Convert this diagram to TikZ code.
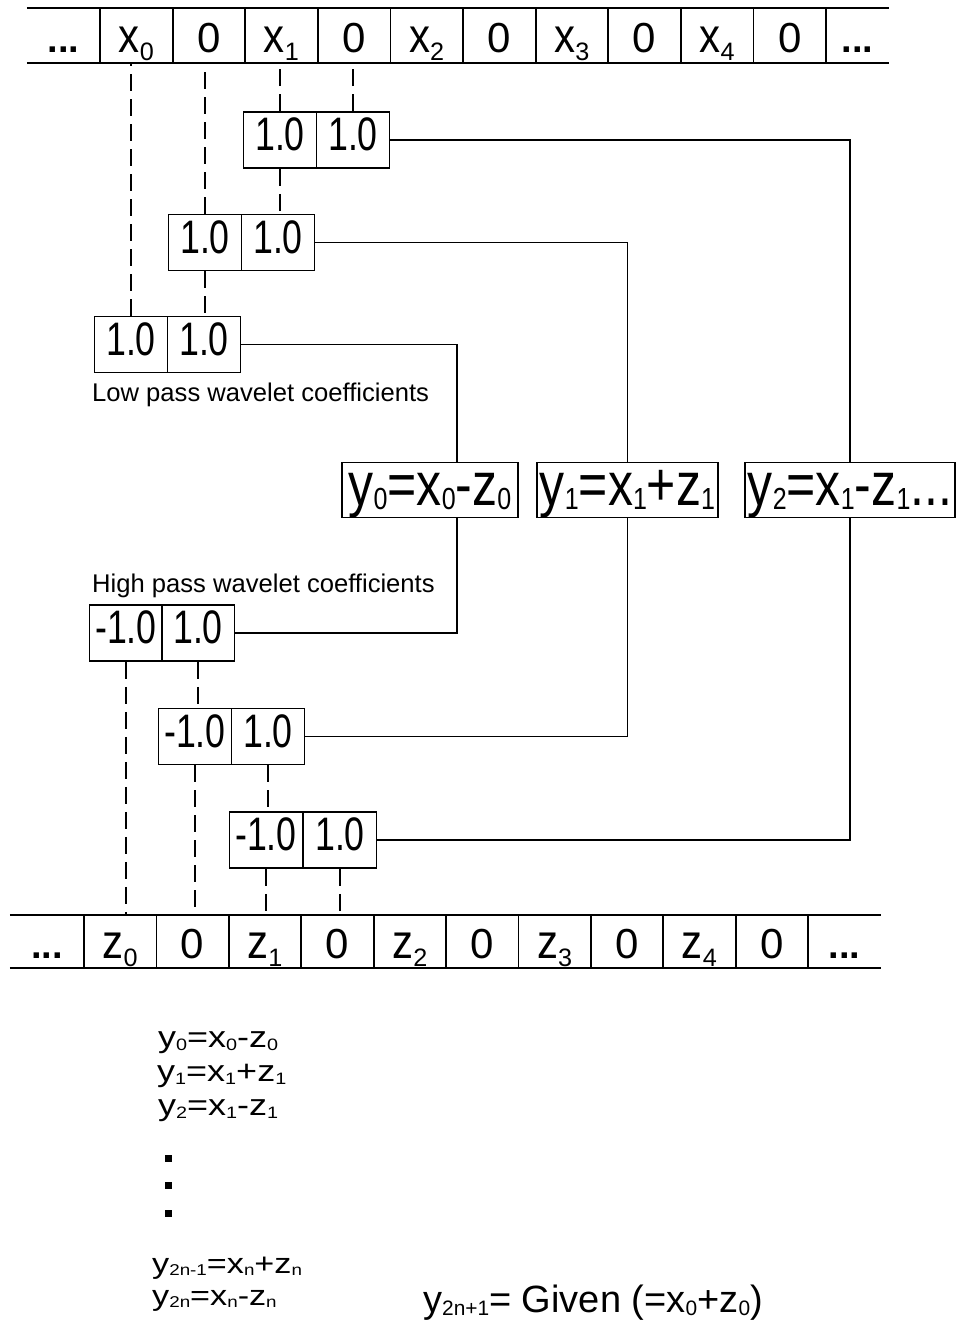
\documentclass[tikz,border=0pt]{standalone}
\usepackage{fontspec}
\usepackage{graphicx}
\setmainfont{Liberation Sans}
\newfontfamily\condf[FakeStretch=0.82]{Liberation Sans}
\newfontfamily\condg[FakeStretch=0.76]{Liberation Sans}
\newfontfamily\widef[FakeStretch=1.2]{Liberation Sans}
\newcommand\sbx[1]{\raisebox{-0.2em}{\scalebox{0.6}{#1}}}
\newcommand\sby[1]{\raisebox{-0.08em}{\scalebox{0.5}{#1}}}
\newcommand\sbe[1]{\raisebox{-0.1em}{\scalebox{0.55}{#1}}}
\newcommand\tx[1]{\scalebox{1}[1.15]{#1}}
\begin{document}
\begin{tikzpicture}[x=1pt,y=-1pt,
  every node/.style={inner sep=0pt},
  tcell/.style={draw, line width=1.8pt, minimum width=72.6pt, minimum height=55pt,
    text height=34pt, text depth=0pt, font=\fontsize{42}{42}\selectfont},
  bcell/.style={tcell, minimum width=72.4pt, minimum height=53pt},
  ecell/.style={minimum height=55pt, text height=34pt, text depth=0pt, font=\bfseries\fontsize{38}{38}\selectfont},
  coef/.style={draw, line width=1.8pt, minimum width=73pt, minimum height=56pt,
    text height=21pt, text depth=0pt, font=\condg\fontsize{47}{47}\selectfont},
  ybox/.style={draw, line width=1.8pt, minimum height=55pt,
    text height=30pt, text depth=0pt, font=\condf\fontsize{61}{61}\selectfont},
  lbl/.style={anchor=base west, font=\fontsize{25.6}{25.6}\selectfont},
  eq/.style={anchor=base west, font=\widef\fontsize{30}{30}\selectfont},
  sq/.style={fill=black, minimum size=7pt},
  dl/.style={line width=1.8pt, dash pattern=on 17pt off 8pt},
  conn/.style={line width=1.8pt}]
\useasboundingbox (0,0) rectangle (958,1326);
% top array
\node[ecell, minimum width=73pt] (tl) at (63.5,35.5) {...};
\node[ecell, minimum width=63pt] (tr) at (857.5,35.5) {...};
\node[tcell] (t1) at (136.3,35.5) {\tx{x}\sbx{0}};
\node[tcell] (t2) at (208.9,35.5) {0};
\node[tcell] (t3) at (281.5,35.5) {\tx{x}\sbx{1}};
\node[tcell] (t4) at (354.1,35.5) {0};
\node[tcell] (t5) at (426.7,35.5) {\tx{x}\sbx{2}};
\node[tcell] (t6) at (499.3,35.5) {0};
\node[tcell] (t7) at (571.9,35.5) {\tx{x}\sbx{3}};
\node[tcell] (t8) at (644.5,35.5) {0};
\node[tcell] (t9) at (717.1,35.5) {\tx{x}\sbx{4}};
\node[tcell] (t10) at (789.7,35.5) {0};
\draw[conn] (tl.north west) -- (tr.north east);
\draw[conn] (tl.south west) -- (tr.south east);
% bottom array
\node[ecell, minimum width=74pt, minimum height=53pt] (bl) at (47,941.5) {...};
\node[ecell, minimum width=73pt, minimum height=53pt] (br) at (844.5,941.5) {...};
\node[bcell] (z1) at (120.2,941.5) {\tx{z}\sbx{0}};
\node[bcell] (z2) at (192.6,941.5) {0};
\node[bcell] (z3) at (265,941.5) {\tx{z}\sbx{1}};
\node[bcell] (z4) at (337.4,941.5) {0};
\node[bcell] (z5) at (409.8,941.5) {\tx{z}\sbx{2}};
\node[bcell] (z6) at (482.2,941.5) {0};
\node[bcell] (z7) at (554.6,941.5) {\tx{z}\sbx{3}};
\node[bcell] (z8) at (627,941.5) {0};
\node[bcell] (z9) at (699.4,941.5) {\tx{z}\sbx{4}};
\node[bcell] (z10) at (771.8,941.5) {0};
\draw[conn] (bl.north west) -- (br.north east);
\draw[conn] (bl.south west) -- (br.south east);
% low pass coefficient boxes
\node[coef] (b1a) at (280,140) {1.0};
\node[coef] (b1b) at (353,140) {1.0};
\node[coef] (b2a) at (205,242.5) {1.0};
\node[coef] (b2b) at (278,242.5) {1.0};
\node[coef] (b3a) at (131,344.5) {1.0};
\node[coef] (b3b) at (204,344.5) {1.0};
\node[lbl] (lp) at (92,401) {Low pass wavelet coefficients};
% y boxes
\node[ybox, minimum width=176pt] (y0) at (430,490) {y\sby{0}=x\sby{0}-z\sby{0}};
\node[ybox, minimum width=181pt] (y1) at (627.5,490) {y\sby{1}=x\sby{1}+z\sby{1}};
\node[ybox, minimum width=210pt] (y2) at (850,490) {y\sby{2}=x\sby{1}-z\sby{1}...};
\path (y0.north west) ++(116,0) coordinate (y0t);
\path (y0.south west) ++(116,0) coordinate (y0b);
% high pass coefficient boxes
\node[lbl] (hp) at (92,592) {High pass wavelet coefficients};
\node[coef] (b4a) at (126,633) {-1.0};
\node[coef] (b4b) at (198,633) {1.0};
\node[coef] (b5a) at (195,736.5) {-1.0};
\node[coef] (b5b) at (268,736.5) {1.0};
\node[coef] (b6a) at (266,840) {-1.0};
\node[coef] (b6b) at (340,840) {1.0};
% dashed verticals
\draw[dl] (b3a.north) -- (b3a.north |- t1.south);
\draw[dl] (b2a.north) -- (b2a.north |- t2.south);
\draw[dl] (b1a.north) -- (b1a.north |- t3.south);
\draw[dl] (b1b.north) -- (b1b.north |- t4.south);
\draw[dl] (b1a.south) -- (b1a.south |- b2b.north);
\draw[dl] (b2a.south) -- (b2a.south |- b3b.north);
\draw[dl] (b4a.south) -- (b4a.south |- z1.north);
\draw[dl] (b4b.south) -- (b4b.south |- b5a.north);
\draw[dl] (b5a.south) -- (b5a.south |- z2.north);
\draw[dl] (b5b.south) -- (b5b.south |- b6a.north);
\draw[dl] (b6a.south) -- (b6a.south |- z3.north);
\draw[dl] (b6b.south) -- (b6b.south |- z4.north);
% connectors
\draw[conn] (b1b.east) -| (y2.north);
\draw[conn] (b2b.east) -| (y1.north);
\draw[conn] (b3b.east) -| (y0t);
\draw[conn] (y0b) |- (b4b.east);
\draw[conn] (y1.south) |- (b5b.east);
\draw[conn] (y2.south) |- (b6b.east);
% equations
\node[eq] (e0) at (158,1047) {y\sbe{0}=x\sbe{0}-z\sbe{0}};
\node[eq] (e1) at (157,1081) {y\sbe{1}=x\sbe{1}+z\sbe{1}};
\node[eq] (e2) at (158,1115) {y\sbe{2}=x\sbe{1}-z\sbe{1}};
\node[sq] (d1) at (168,1158) {};
\node[sq] (d2) at (168,1185) {};
\node[sq] (d3) at (168,1213) {};
\node[eq, font=\widef\fontsize{28.5}{28.5}\selectfont] (e3) at (152,1273) {y\sbe{2n-1}=x\sbe{n}+z\sbe{n}};
\node[eq, font=\widef\fontsize{28.5}{28.5}\selectfont] (e4) at (152,1305) {y\sbe{2n}=x\sbe{n}-z\sbe{n}};
\node[anchor=base west, font=\fontsize{38}{38}\selectfont] (g) at (423,1312) {y\sbe{2n+1}= Given (=x\sbe{0}+z\sbe{0})};
\end{tikzpicture}
\end{document}
